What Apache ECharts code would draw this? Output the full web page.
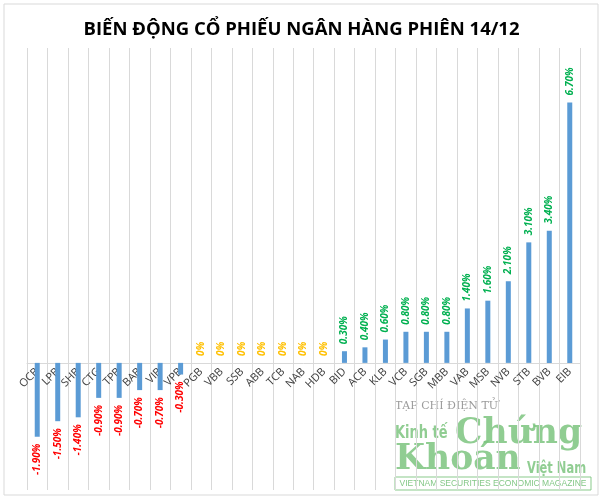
<!DOCTYPE html>
<html><head><meta charset="utf-8">
<script src="https://cdn.jsdelivr.net/npm/echarts@6/dist/echarts.min.js"></script>
<style>html,body{margin:0;padding:0;background:#fff}#c{width:603px;height:501px}</style>
</head><body><div id="c"></div>
<script>
const title = 'BIẾN ĐỘNG CỔ PHIẾU NGÂN HÀNG PHIÊN 14/12';
const categories = ['OCB','LPB','SHB','CTG','TPB','BAB','VIB','VPB','PGB','VBB','SSB','ABB','TCB','NAB','HDB','BID','ACB','KLB','VCB','SGB','MBB','VAB','MSB','NVB','STB','BVB','EIB'];
const values = [-1.90,-1.50,-1.40,-0.90,-0.90,-0.70,-0.70,-0.30,0,0,0,0,0,0,0,0.30,0.40,0.60,0.80,0.80,0.80,1.40,1.60,2.10,3.10,3.40,6.70];

const fmt = v => v === 0 ? '0%' : v.toFixed(2) + '%';
const data = values.map(v => {
  const neg = v < 0;
  return {
    value: v,
    label: {
      show: true,
      position: neg ? 'bottom' : 'top',
      rotate: 90,
      align: neg ? 'right' : 'left',
      verticalAlign: 'middle',
      distance: 7,
      color: v > 0 ? '#00B050' : (v < 0 ? '#FF0000' : '#FFC000'),
      fontStyle: 'italic',
      fontWeight: 'bold',
      fontSize: 10,
      fontFamily: 'Open Sans',
      formatter: () => fmt(v)
    }
  };
});

const Y_MIN = -3.27, Y_MAX = 8.1;
const GRID_TOP = 48, GRID_BOTTOM = 11, H = 501;
const plotH = H - GRID_TOP - GRID_BOTTOM;
const zeroOffset = plotH * (0 - Y_MIN) / (Y_MAX - Y_MIN);

const chart = echarts.init(document.getElementById('c'), null, {renderer: 'canvas'});
const green = '#7cc47f';
const wm = (text, x, y, font, sx) => ({type: 'text', x: x, y: y, scaleX: sx,
  style: {text: text, font: font, fill: green, opacity: 0.85, verticalAlign: 'middle'}});
chart.setOption({
  animation: false,
  backgroundColor: '#fff',
  title: {
    text: title, left: 'center', top: 15,
    textStyle: {fontFamily: 'Open Sans', fontWeight: 'bold', fontSize: 18.5, color: '#000'}
  },
  grid: {left: 27, right: 23, top: GRID_TOP, bottom: GRID_BOTTOM, containLabel: false, outerBoundsMode: 'none'},
  xAxis: {
    type: 'category', data: categories,
    offset: -zeroOffset,
    axisLine: {onZero: false, lineStyle: {color: '#d9d9d9'}},
    axisTick: {show: false},
    splitLine: {show: true, lineStyle: {color: '#d9d9d9'}},
    axisLabel: {rotate: 45, fontSize: 11, color: '#404040', fontFamily: 'Open Sans', margin: 7, interval: 0}
  },
  yAxis: {
    type: 'value', min: Y_MIN, max: Y_MAX,
    axisLabel: {show: false}, axisLine: {show: false}, axisTick: {show: false},
    splitLine: {show: false}
  },
  series: [{type: 'bar', data: data, barWidth: 5, itemStyle: {color: '#5B9BD5'}}],
  graphic: [
    {type: 'rect', shape: {x: 4, y: 4, width: 594, height: 491}, style: {fill: 'none', stroke: '#d9d9d9', lineWidth: 1}, z: -10},
    {type: 'group', z: 100, children: [
      {type: 'text', x: 395, y: 406, style: {text: 'TẠP CHÍ ĐIỆN TỬ', font: '11px "DejaVu Serif"', fill: '#8a8a8a', opacity: 0.85, verticalAlign: 'middle'}},
      wm('Kinh tế', 395, 434, 'bold 17px "DejaVu Sans Condensed", "DejaVu Sans", sans-serif', 0.85),
      wm('Chứng', 455, 434, 'bold 36px "DejaVu Serif", serif', 0.96),
      wm('Khoán', 395, 460, 'bold 36px "DejaVu Serif", serif', 0.96),
      wm('Việt Nam', 527, 469, 'bold 15px "DejaVu Sans Condensed", "DejaVu Sans", sans-serif', 0.85),
      {type: 'rect', shape: {x: 395, y: 477, width: 196, height: 13}, style: {fill: '#fff', stroke: green, lineWidth: 1, opacity: 0.9}},
      {type: 'text', x: 493, y: 484, style: {text: 'VIETNAM SECURITIES ECONOMIC MAGAZINE', font: '8.5px "Liberation Sans", sans-serif', fill: green, align: 'center', verticalAlign: 'middle', opacity: 0.95}}
    ]}
  ]
});
</script></body></html>
